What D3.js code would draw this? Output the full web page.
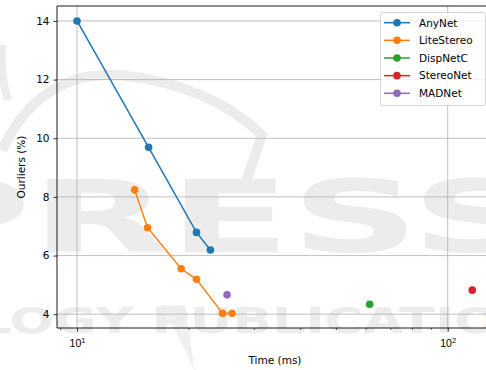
<!DOCTYPE html>
<html><head><meta charset="utf-8">
<script src="https://cdn.jsdelivr.net/npm/d3@7"></script>
<style>body{margin:0;background:#fff;} svg{display:block;font-family:"DejaVu Sans",sans-serif;}</style>
</head><body>
<svg id="c" width="486" height="370"></svg>
<script>
const seriesNames = ["AnyNet","LiteStereo","DispNetC","StereoNet","MADNet"];
const colors = ["#1f77b4","#ff7f0e","#2ca02c","#d62728","#9467bd"];
const anyNetTime = [10, 15.6, 21.0, 22.9];
const anyNetOut = [14.0, 9.69, 6.79, 6.19];
const liteTime = [14.3, 15.5, 19.1, 21.0, 24.7, 26.2];
const liteOut = [8.24, 6.95, 5.55, 5.19, 4.03, 4.03];
const dispTime = [61.6];
const dispOut = [4.34];
const stereoTime = [116.5];
const stereoOut = [4.82];
const madTime = [25.4];
const madOut = [4.66];
const yTicks = [4, 6, 8, 10, 12, 14];
const xMajor = [10, 100];
const xMinor = [9, 20, 30, 40, 50, 60, 70, 80, 90];

const series = [
  {t: anyNetTime, o: anyNetOut},
  {t: liteTime, o: liteOut},
  {t: dispTime, o: dispOut},
  {t: stereoTime, o: stereoOut},
  {t: madTime, o: madOut}
];

const svg = d3.select("#c");
const L = 57, R = 493, T = 6, B = 328;
const x = d3.scaleLog().domain([8.83, 132.5]).range([L, R]);
const y = d3.scaleLinear().domain([3.53, 14.51]).range([B, T]);

// watermark (faint background logo)
const wmc = "#ececec";
svg.append("path").attr("d", "M 2,150 Q 40,70 120,75 Q 210,85 262,135 L 246,182")
  .attr("fill", "none").attr("stroke", wmc).attr("stroke-width", 10);
svg.append("path").attr("d", "M 2,45 Q 0,75 8,100").attr("fill", "none").attr("stroke", wmc).attr("stroke-width", 8);
svg.append("path").attr("d", "M 195,372 L 180,340 L 160,305 L 185,305 Z").attr("fill", "#f0f0f0");
const wm = svg.append("g").attr("fill", wmc).attr("stroke", "none").attr("font-family", "DejaVu Sans");
wm.append("text").attr("x", -100).attr("y", 252).attr("font-size", 100).attr("font-weight", "bold")
  .attr("textLength", 640).attr("lengthAdjust", "spacingAndGlyphs").text("PRESS");
wm.append("text").attr("x", -22).attr("y", 333).attr("font-size", 36).attr("font-weight", "bold")
  .attr("textLength", 602).attr("lengthAdjust", "spacingAndGlyphs").text("LOGY PUBLICATIONS");

const g = svg.append("g");
// grid
g.selectAll(".gx").data(xMajor).join("line")
  .attr("x1", d => x(d)).attr("x2", d => x(d)).attr("y1", T).attr("y2", B)
  .attr("stroke", "#b0b0b0").attr("stroke-width", 0.8);
g.selectAll(".gy").data(yTicks).join("line")
  .attr("x1", L).attr("x2", R).attr("y1", d => y(d)).attr("y2", d => y(d))
  .attr("stroke", "#b0b0b0").attr("stroke-width", 0.8);

// axes
const xAxis = svg.append("g").attr("transform", `translate(0,${B})`);
xAxis.call(d3.axisBottom(x).tickValues(xMajor).tickSize(3.5).tickPadding(3).tickFormat(() => ""));
xAxis.select(".domain").remove();
xAxis.selectAll(".tick line").attr("stroke", "#000").attr("stroke-width", 0.8);
const xMin = svg.append("g").attr("transform", `translate(0,${B})`);
xMin.call(d3.axisBottom(x).tickValues(xMinor).tickSize(2).tickFormat(() => ""));
xMin.select(".domain").remove();
xMin.selectAll(".tick line").attr("stroke", "#000").attr("stroke-width", 0.6);
xAxis.selectAll(".tick").each(function(d) {
  const t = d3.select(this).append("text").attr("y", 19).attr("fill", "#000")
    .attr("font-size", 10.5).attr("text-anchor", "middle");
  t.append("tspan").text("10");
  t.append("tspan").attr("dy", -4).attr("font-size", 7.5).text(Math.round(Math.log10(d)));
});

const yAxis = svg.append("g").attr("transform", `translate(${L},0)`);
yAxis.call(d3.axisLeft(y).tickValues(yTicks).tickSize(3.5).tickPadding(4));
yAxis.select(".domain").remove();
yAxis.selectAll(".tick line").attr("stroke", "#000").attr("stroke-width", 0.8);
yAxis.selectAll(".tick text").attr("font-size", 10.5).attr("fill", "#000")
  .attr("font-family", "DejaVu Sans");

// spines
svg.append("line").attr("x1", L).attr("x2", L).attr("y1", T).attr("y2", B).attr("stroke", "#000").attr("stroke-width", 0.9);
svg.append("line").attr("x1", L).attr("x2", R).attr("y1", B).attr("y2", B).attr("stroke", "#000").attr("stroke-width", 0.9);
svg.append("line").attr("x1", L).attr("x2", R).attr("y1", T).attr("y2", T).attr("stroke", "#000").attr("stroke-width", 0.9);

// data
const line = d3.line().x(d => x(d[0])).y(d => y(d[1]));
series.forEach((s, i) => {
  const pts = s.t.map((t, j) => [t, s.o[j]]);
  if (pts.length > 1) {
    svg.append("path").datum(pts).attr("d", line).attr("fill", "none")
      .attr("stroke", colors[i]).attr("stroke-width", 1.5);
  }
  svg.selectAll(null).data(pts).join("circle")
    .attr("cx", d => x(d[0])).attr("cy", d => y(d[1])).attr("r", 3.8).attr("fill", colors[i]);
});

// labels
svg.append("text").attr("x", (L + R) / 2).attr("y", 364).attr("text-anchor", "middle")
  .attr("font-size", 10.5).text("Time (ms)");
svg.append("text").attr("transform", `translate(25,${(T + B) / 2}) rotate(-90)`)
  .attr("text-anchor", "middle").attr("font-size", 10.5).text("Ourliers (%)");

// legend
const lg = svg.append("g");
lg.append("rect").attr("x", 380.5).attr("y", 12.5).attr("width", 105).attr("height", 93)
  .attr("rx", 2).attr("fill", "#fff").attr("fill-opacity", 0.8).attr("stroke", "#cccccc").attr("stroke-width", 0.8);
seriesNames.forEach((n, i) => {
  const yy = 22.7 + i * 17.65;
  lg.append("line").attr("x1", 384).attr("x2", 410).attr("y1", yy).attr("y2", yy)
    .attr("stroke", colors[i]).attr("stroke-width", 1.5);
  lg.append("circle").attr("cx", 397).attr("cy", yy).attr("r", 3.8).attr("fill", colors[i]);
  lg.append("text").attr("x", 419).attr("y", yy + 3.8).attr("font-size", 10.5).text(n);
});
</script>
</body></html>
